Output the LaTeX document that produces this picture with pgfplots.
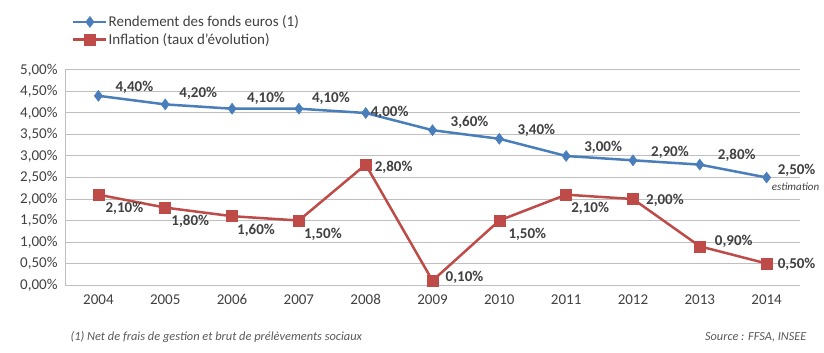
\documentclass[border=0pt]{standalone}
\usepackage{pgfplots}
\pgfplotsset{compat=1.18}
\usepackage{pgfplotstable}
\usepackage{fontspec}
\setmainfont{Carlito}
\definecolor{cblue}{HTML}{4A7EBB}
\definecolor{cred}{HTML}{BE4B48}
\definecolor{ctext}{HTML}{404040}
\definecolor{cfoot}{HTML}{595959}
\definecolor{cgrid}{HTML}{BFBFBF}
\newcommand{\lgfont}{\fontsize{15bp}{18bp}\selectfont}
\pgfplotstableread{
x y dx dy
0 4.4 36 8
1 4.2 33 11
2 4.1 34 10
3 4.1 32 10
4 4.0 24 1
5 3.6 37 8
6 3.4 37 8
7 3.0 37 9
8 2.9 37 8
9 2.8 37 9
10 2.5 30 7
}\rendement
\pgfplotstableread{
x y dx dy
0 2.1 26 -14
1 1.8 25 -14
2 1.6 24 -14
3 1.5 24 -14
4 2.8 28 -3
5 0.1 32 3
6 1.5 28 -14
7 2.1 24 -14
8 2.0 32 -1
9 0.9 34 5
10 0.5 30 -1
}\inflation
\begin{document}
\begin{tikzpicture}[x=1bp,y=1bp]
\path[use as bounding box] (0,0) rectangle (824,352);
\begin{axis}[
  at={(65bp,67bp)}, anchor=south west,
  scale only axis, width=735bp, height=215bp,
  xmin=-0.5, xmax=10.5, ymin=0, ymax=5,
  xtick={0,...,10},
  xticklabels={2004,2005,2006,2007,2008,2009,2010,2011,2012,2013,2014},
  ytick={0,0.5,...,5},
  yticklabels={{0,00\%},{0,50\%},{1,00\%},{1,50\%},{2,00\%},{2,50\%},{3,00\%},{3,50\%},{4,00\%},{4,50\%},{5,00\%}},
  /pgf/number format/assume math mode=true,
  major tick length=0pt,
  axis x line*=bottom, axis y line*=left,
  axis line style={cgrid, line width=1bp, -},
  ymajorgrids, grid style={cgrid, line width=1bp},
  tick label style={font=\lgfont, text=ctext},
  yticklabel style={xshift=-4bp},
  xticklabel style={yshift=-6bp},
  legend style={at={(axis description cs:0.0095,1.258)}, anchor=north west,
     draw=none, fill=none, text=ctext,
     row sep=3bp, inner sep=0pt,
     nodes={inner sep=1bp}},
  legend cell align=left,
  legend image code/.code={
     \draw[#1, mark repeat=2, mark phase=2] plot coordinates {(0bp,0bp) (16.5bp,0bp) (33bp,0bp)};},
  nodes near coords={\pgfmathprintnumber[fixed,fixed zerofill,precision=2,use comma]{\pgfplotspointmeta}\%},
  every node near coord/.append style={font=\bfseries\lgfont, text=ctext,
     anchor=center, xshift=\labdx bp, yshift=\labdy bp},
  visualization depends on={\thisrow{dx} \as \labdx},
  visualization depends on={\thisrow{dy} \as \labdy},
  clip=false,
]
\addplot[cblue, line width=2.5bp, mark=diamond*, mark size=5.5bp, mark options={fill=cblue, draw=cblue, line width=0.5bp}] table[x=x,y=y] {\rendement};
\addlegendentry{\lgfont Rendement des fonds euros (1)}
\addplot[cred, line width=2.5bp, mark=square*, mark size=5.5bp, mark options={fill=cred, draw=cred, line width=0.5bp}] table[x=x,y=y] {\inflation};
\addlegendentry{\lgfont Inflation (taux d'évolution)}
\node[font=\itshape\fontsize{11bp}{13bp}\selectfont, text=ctext] at (axis cs:10,2.5) [xshift=29bp, yshift=-9bp] {estimation};
\end{axis}
\node[anchor=west, font=\itshape\fontsize{12.4bp}{14bp}\selectfont, text=cfoot] at (67,15) {(1) Net de frais de gestion et brut de prélèvements sociaux};
\node[anchor=east, font=\itshape\fontsize{12.3bp}{14bp}\selectfont, text=cfoot] at (810,15) {Source : FFSA, INSEE};
\end{tikzpicture}
\end{document}
